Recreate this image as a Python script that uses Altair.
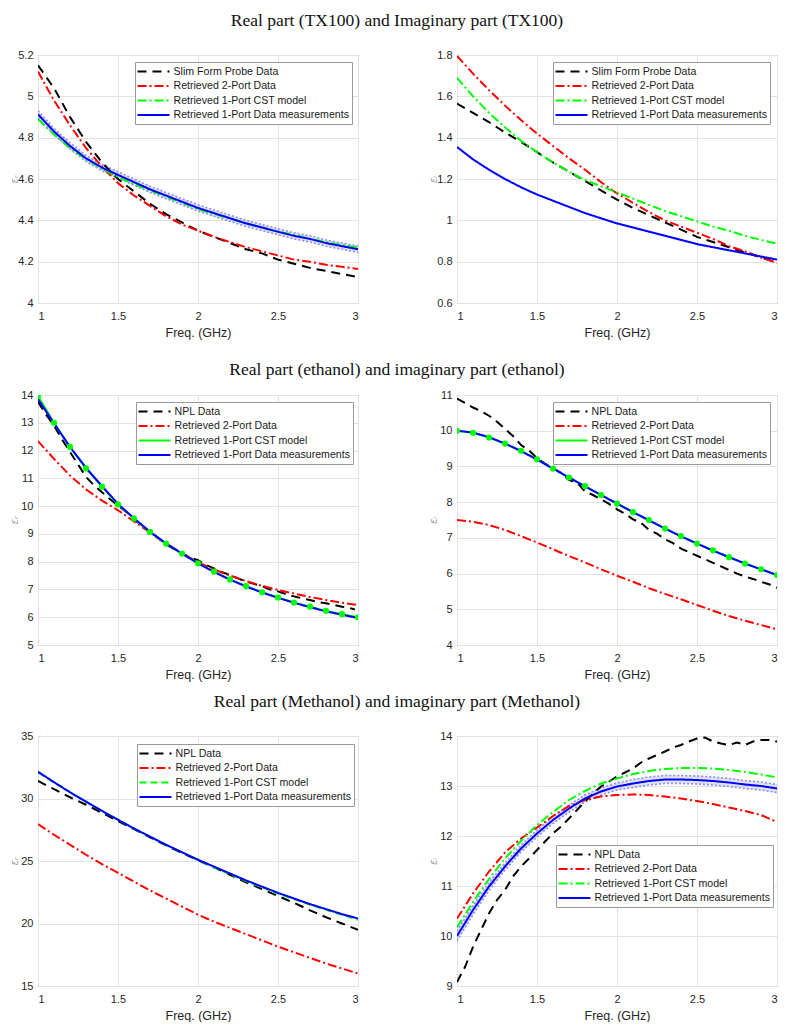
import altair as alt
import pandas as pd

# ---------------- data ----------------
FREQ = [1.0, 1.1, 1.2, 1.3, 1.4, 1.5, 1.6, 1.7, 1.8, 1.9, 2.0,
        2.1, 2.2, 2.3, 2.4, 2.5, 2.6, 2.7, 2.8, 2.9, 3.0]
FREQ_FINE = [1.0, 1.05, 1.1, 1.15, 1.2, 1.25, 1.3, 1.35, 1.4, 1.45, 1.5,
             1.55, 1.6, 1.65, 1.7, 1.75, 1.8, 1.85, 1.9, 1.95, 2.0,
             2.05, 2.1, 2.15, 2.2, 2.25, 2.3, 2.35, 2.4, 2.45, 2.5,
             2.55, 2.6, 2.65, 2.7, 2.75, 2.8, 2.85, 2.9, 2.95, 2.98]
FREQ_FINE3 = [1.0, 1.05, 1.1, 1.15, 1.2, 1.25, 1.3, 1.35, 1.4, 1.45, 1.5,
              1.55, 1.6, 1.65, 1.7, 1.75, 1.8, 1.85, 1.9, 1.95, 2.0,
              2.05, 2.1, 2.15, 2.2, 2.25, 2.3, 2.35, 2.4, 2.45, 2.5,
              2.55, 2.6, 2.65, 2.7, 2.75, 2.8, 2.85, 2.9, 2.95, 3.0]

# TX100 real part
tx_re_slim = [5.15, 5.04, 4.90, 4.78, 4.68, 4.60, 4.54, 4.48, 4.43, 4.39, 4.35,
              4.32, 4.29, 4.26, 4.24, 4.21, 4.19, 4.17, 4.155, 4.14, 4.125]
tx_re_2port = [5.12, 4.98, 4.86, 4.75, 4.66, 4.58, 4.52, 4.47, 4.42, 4.38, 4.35,
               4.32, 4.295, 4.27, 4.25, 4.23, 4.21, 4.20, 4.185, 4.175, 4.165]
tx_re_cst = [4.89, 4.815, 4.75, 4.695, 4.65, 4.61, 4.575, 4.545, 4.515, 4.485, 4.455,
             4.43, 4.41, 4.385, 4.365, 4.345, 4.33, 4.31, 4.295, 4.28, 4.27]
tx_re_meas = [4.913, 4.83, 4.76, 4.70, 4.655, 4.62, 4.585, 4.55, 4.52, 4.49, 4.46,
              4.435, 4.41, 4.385, 4.365, 4.345, 4.325, 4.31, 4.29, 4.275, 4.26]
tx_re_meas_hi = [4.93, 4.845, 4.775, 4.715, 4.67, 4.635, 4.60, 4.565, 4.535, 4.505, 4.475,
                 4.45, 4.425, 4.40, 4.38, 4.36, 4.34, 4.325, 4.305, 4.29, 4.275]
tx_re_meas_lo = [4.896, 4.815, 4.745, 4.685, 4.64, 4.605, 4.57, 4.535, 4.505, 4.475, 4.445,
                 4.42, 4.395, 4.37, 4.35, 4.33, 4.31, 4.295, 4.275, 4.26, 4.245]

# TX100 imaginary part
tx_im_slim = [1.565, 1.52, 1.475, 1.425, 1.38, 1.33, 1.28, 1.235, 1.19, 1.145, 1.10,
              1.06, 1.025, 0.99, 0.955, 0.92, 0.895, 0.87, 0.845, 0.82, 0.795]
tx_im_2port = [1.795, 1.71, 1.63, 1.555, 1.485, 1.42, 1.36, 1.30, 1.245, 1.185, 1.13,
               1.085, 1.04, 1.0, 0.97, 0.94, 0.91, 0.875, 0.85, 0.82, 0.795]
tx_im_cst = [1.69, 1.60, 1.52, 1.45, 1.385, 1.33, 1.28, 1.235, 1.195, 1.165, 1.135,
             1.105, 1.075, 1.045, 1.02, 0.995, 0.97, 0.95, 0.925, 0.905, 0.887]
tx_im_meas = [1.355, 1.295, 1.245, 1.2, 1.16, 1.125, 1.095, 1.065, 1.035, 1.01, 0.985,
              0.965, 0.945, 0.925, 0.905, 0.885, 0.87, 0.855, 0.84, 0.825, 0.81]

# Ethanol real part
eth_re_npl = [13.75, 13.3, 12.9, 12.4, 11.95, 11.5, 11.05, 10.75, 10.5, 10.25, 10.02,
              9.8, 9.52, 9.28, 9.05, 8.85, 8.62, 8.45, 8.3, 8.15, 8.05,
              7.88, 7.76, 7.62, 7.52, 7.4, 7.28, 7.2, 7.12, 7.0, 6.93,
              6.83, 6.75, 6.68, 6.62, 6.55, 6.5, 6.44, 6.38, 6.33, 6.28]
eth_re_2port = [12.34, 11.7, 11.1, 10.6, 10.2, 9.85, 9.45, 9.05, 8.65, 8.3, 7.98,
                7.72, 7.5, 7.3, 7.13, 6.98, 6.85, 6.73, 6.62, 6.52, 6.44]
eth_re_cst = [13.96, 13.0, 12.13, 11.36, 10.7, 10.06, 9.55, 9.07, 8.65, 8.29, 7.94,
              7.64, 7.36, 7.12, 6.9, 6.71, 6.53, 6.38, 6.23, 6.11, 6.0]
eth_re_meas = [13.85, 12.98, 12.13, 11.38, 10.72, 10.08, 9.56, 9.08, 8.66, 8.29, 7.94,
               7.63, 7.35, 7.11, 6.89, 6.7, 6.52, 6.36, 6.21, 6.09, 5.97]

# Ethanol imaginary part
eth_im_npl = [10.9, 10.78, 10.65, 10.55, 10.42, 10.25, 10.05, 9.85, 9.6, 9.45, 9.23,
              9.08, 8.95, 8.82, 8.62, 8.55, 8.3, 8.2, 8.08, 7.95, 7.8,
              7.68, 7.52, 7.42, 7.22, 7.12, 6.96, 6.85, 6.7, 6.6, 6.5,
              6.4, 6.3, 6.2, 6.1, 6.0, 5.92, 5.85, 5.77, 5.7, 5.6]
eth_im_2port = [7.5, 7.45, 7.36, 7.22, 7.05, 6.87, 6.68, 6.49, 6.31, 6.12, 5.94,
                5.77, 5.59, 5.43, 5.28, 5.12, 4.96, 4.81, 4.68, 4.56, 4.44]
eth_im_cst = [10.0, 9.94, 9.81, 9.64, 9.44, 9.2, 8.94, 8.69, 8.45, 8.2, 7.96,
              7.72, 7.5, 7.26, 7.05, 6.84, 6.65, 6.46, 6.28, 6.12, 5.96]
eth_im_meas = [10.0, 9.95, 9.82, 9.64, 9.43, 9.19, 8.94, 8.69, 8.44, 8.2, 7.96,
               7.72, 7.49, 7.26, 7.04, 6.84, 6.64, 6.46, 6.28, 6.12, 5.96]

# Methanol real part
met_re_npl = [31.4, 30.75, 30.1, 29.5, 28.85, 28.2, 27.55, 26.9, 26.25, 25.65, 25.05,
              24.5, 23.9, 23.3, 22.75, 22.2, 21.65, 21.05, 20.5, 20.0, 19.5]
met_re_2port = [27.95, 27.1, 26.3, 25.5, 24.75, 24.05, 23.35, 22.65, 22.0, 21.35, 20.7,
                20.15, 19.65, 19.15, 18.65, 18.15, 17.7, 17.25, 16.8, 16.4, 16.0]
met_re_cst = [32.1, 31.3, 30.5, 29.75, 29.0, 28.3, 27.6, 26.95, 26.3, 25.7, 25.1,
              24.5, 23.95, 23.4, 22.9, 22.4, 21.95, 21.5, 21.1, 20.7, 20.3]
met_re_meas = [32.14, 31.3, 30.5, 29.75, 29.0, 28.3, 27.6, 26.95, 26.3, 25.7, 25.1,
               24.55, 24.0, 23.45, 22.95, 22.45, 22.0, 21.55, 21.15, 20.75, 20.4]

# Methanol imaginary part
met_im_npl = [9.08, 9.38, 9.78, 10.12, 10.45, 10.72, 10.92, 11.19, 11.39, 11.55, 11.72,
              11.89, 12.05, 12.19, 12.35, 12.52, 12.69, 12.85, 12.99, 13.09, 13.19,
              13.27, 13.35, 13.47, 13.55, 13.62, 13.69, 13.77, 13.82, 13.89, 13.95,
              13.97, 13.89, 13.85, 13.82, 13.87, 13.82, 13.89, 13.92, 13.92, 13.89]
met_im_2port = [10.35, 10.85, 11.29, 11.67, 11.95, 12.17, 12.4, 12.6, 12.72, 12.79, 12.82,
                12.83, 12.82, 12.79, 12.75, 12.7, 12.64, 12.57, 12.5, 12.42, 12.28]
met_im_cst = [10.17, 10.68, 11.14, 11.55, 11.9, 12.22, 12.48, 12.72, 12.9, 13.05, 13.15,
              13.24, 13.3, 13.34, 13.36, 13.36, 13.35, 13.32, 13.28, 13.23, 13.17]
met_im_meas = [10.0, 10.52, 10.99, 11.39, 11.75, 12.05, 12.32, 12.55, 12.75, 12.89, 12.99,
               13.05, 13.1, 13.13, 13.13, 13.12, 13.1, 13.07, 13.03, 13.0, 12.95]
met_im_meas_hi = [10.1, 10.61, 11.07, 11.46, 11.82, 12.12, 12.39, 12.62, 12.82, 12.96, 13.06,
                  13.13, 13.18, 13.21, 13.21, 13.2, 13.18, 13.15, 13.11, 13.08, 13.03]
met_im_meas_lo = [9.9, 10.43, 10.91, 11.32, 11.68, 11.98, 12.25, 12.48, 12.68, 12.82, 12.92,
                  12.97, 13.02, 13.05, 13.05, 13.04, 13.02, 12.99, 12.95, 12.92, 12.87]

LBL_SLIM = "Slim Form Probe Data"
LBL_NPL = "NPL Data"
LBL_2P = "Retrieved 2-Port Data"
LBL_CST = "Retrieved 1-Port CST model"
LBL_MEAS = "Retrieved 1-Port Data measurements"

BLACK, RED, GREEN, BLUE = "#000000", "#ff0000", "#00ff00", "#0000ff"
DASH = [9, 6]
DASHDOT = [9, 3, 2, 3]
SOLID = [1, 0]
GREENDASH = [7, 4]

X_TICKS = [1, 1.5, 2, 2.5, 3]

FONT = "Liberation Sans"
EPS_R = "\u03b5\u1d63"
EPS_I = "\u03b5\u1d62"

# a 32 px horizontal stroke drawn inside a 12 px legend symbol box
LEGEND_LINE = "M-2.667,0L2.667,0"


def panel(series, ydom, yvals, ytitle, lx, ly, h, band=None, marker=None):
    names = [s[0] for s in series]
    cscale = alt.Scale(domain=names, range=[s[3] for s in series])
    dscale = alt.Scale(domain=names, range=[s[4] for s in series])
    legend = alt.Legend(orient="none", legendX=lx, legendY=ly, title=None,
                        symbolType=LEGEND_LINE, symbolSize=144, symbolStrokeWidth=2,
                        symbolOffset=9, labelOffset=13,
                        labelFont=FONT, labelFontSize=10.6, labelColor="#1a1a1a",
                        fillColor="#ffffff", strokeColor="#9a9a9a", padding=2.5,
                        rowPadding=1.5, labelLimit=300)
    x = alt.X("f:Q", scale=alt.Scale(domain=[1, 3], nice=False),
              axis=alt.Axis(values=X_TICKS, format="~g", title="Freq. (GHz)"))
    y = alt.Y("v:Q", scale=alt.Scale(domain=ydom, nice=False, zero=False),
              axis=alt.Axis(values=yvals, format="~g", title=ytitle))
    layers = []
    if band is not None:
        bf, lo, hi = band
        bdf = pd.DataFrame({"f": bf, "v": lo, "v2": hi})
        layers.append(alt.Chart(bdf).mark_area(color="#c9c9dd", opacity=0.55, clip=True)
                      .encode(x=x, y=y, y2="v2:Q"))
        for vals in (lo, hi):
            ddf = pd.DataFrame({"f": bf, "v": vals})
            layers.append(alt.Chart(ddf).mark_line(color="#8c8cff", strokeWidth=1.6,
                                                   strokeDash=[2, 2], clip=True)
                          .encode(x=x, y=y))
    for name, fx, vals, col, dash in series:
        df = pd.DataFrame({"f": fx, "v": vals, "s": [name] * len(vals)})
        layers.append(alt.Chart(df).mark_line(strokeWidth=2, clip=True).encode(
            x=x, y=y,
            color=alt.Color("s:N", scale=cscale, legend=legend),
            strokeDash=alt.StrokeDash("s:N", scale=dscale, legend=legend)))
    if marker is not None:
        mf, mv = marker
        mdf = pd.DataFrame({"f": mf, "v": mv})
        layers.append(alt.Chart(mdf).mark_circle(size=38, color=GREEN, opacity=1, clip=True)
                      .encode(x=x, y=y))
    return alt.layer(*layers).resolve_scale(color="shared", strokeDash="shared").properties(
        width=320, height=h)


p11 = panel([(LBL_SLIM, FREQ, tx_re_slim, BLACK, DASH),
             (LBL_2P, FREQ, tx_re_2port, RED, DASHDOT),
             (LBL_CST, FREQ, tx_re_cst, GREEN, DASHDOT),
             (LBL_MEAS, FREQ, tx_re_meas, BLUE, SOLID)],
            [4, 5.2], [4, 4.2, 4.4, 4.6, 4.8, 5, 5.2], EPS_R, 97, 7, 248,
            band=(FREQ, tx_re_meas_lo, tx_re_meas_hi))
p12 = panel([(LBL_SLIM, FREQ, tx_im_slim, BLACK, DASH),
             (LBL_2P, FREQ, tx_im_2port, RED, DASHDOT),
             (LBL_CST, FREQ, tx_im_cst, GREEN, DASHDOT),
             (LBL_MEAS, FREQ, tx_im_meas, BLUE, SOLID)],
            [0.6, 1.8], [0.6, 0.8, 1, 1.2, 1.4, 1.6, 1.8], EPS_I, 96, 7, 248)
p21 = panel([(LBL_NPL, FREQ_FINE, eth_re_npl, BLACK, DASH),
             (LBL_2P, FREQ, eth_re_2port, RED, DASHDOT),
             (LBL_CST, FREQ, eth_re_cst, GREEN, SOLID),
             (LBL_MEAS, FREQ, eth_re_meas, BLUE, SOLID)],
            [5, 14], [5, 6, 7, 8, 9, 10, 11, 12, 13, 14], EPS_R, 98, 7, 250,
            marker=(FREQ, eth_re_cst))
p22 = panel([(LBL_NPL, FREQ_FINE3, eth_im_npl, BLACK, DASH),
             (LBL_2P, FREQ, eth_im_2port, RED, DASHDOT),
             (LBL_CST, FREQ, eth_im_cst, GREEN, SOLID),
             (LBL_MEAS, FREQ, eth_im_meas, BLUE, SOLID)],
            [4, 11], [4, 5, 6, 7, 8, 9, 10, 11], EPS_I, 96, 7, 250,
            marker=(FREQ, eth_im_cst))
p31 = panel([(LBL_NPL, FREQ, met_re_npl, BLACK, DASH),
             (LBL_2P, FREQ, met_re_2port, RED, DASHDOT),
             (LBL_CST, FREQ, met_re_cst, GREEN, GREENDASH),
             (LBL_MEAS, FREQ, met_re_meas, BLUE, SOLID)],
            [15, 35], [15, 20, 25, 30, 35], EPS_R, 99, 8, 250)
p32 = panel([(LBL_NPL, FREQ_FINE3, met_im_npl, BLACK, DASH),
             (LBL_2P, FREQ, met_im_2port, RED, DASHDOT),
             (LBL_CST, FREQ, met_im_cst, GREEN, DASHDOT),
             (LBL_MEAS, FREQ, met_im_meas, BLUE, SOLID)],
            [9, 14], [9, 10, 11, 12, 13, 14], EPS_I, 99, 109, 250,
            band=(FREQ, met_im_meas_lo, met_im_meas_hi))


def row(a, b, text, offset):
    return alt.hconcat(a, b, spacing=68, title=alt.Title(
        text, font="Liberation Serif", fontSize=17.5, fontWeight="normal",
        color="#111111", anchor="middle", baseline="alphabetic", offset=offset, dx=4)
    ).resolve_scale(color="independent", strokeDash="independent")


r1 = row(p11, p12, "Real part (TX100) and Imaginary part (TX100)", 5)
r2 = row(p21, p22, "Real part (ethanol) and imaginary part (ethanol)", -4)
r3 = row(p31, p32, "Real part (Methanol) and imaginary part (Methanol)", 5)

lower = alt.vconcat(r2, r3, spacing=12).resolve_scale(
    color="independent", strokeDash="independent")

chart = alt.vconcat(r1, lower, spacing=22).resolve_scale(
    color="independent", strokeDash="independent"
).properties(
    padding={"left": 0, "top": 4, "right": 5, "bottom": 0}
).configure_view(
    stroke="#8a8a8a", strokeWidth=1
).configure_axis(
    grid=True, gridColor="#e2e2e2", gridWidth=1, domain=False, ticks=False,
    labelFont=FONT, labelFontSize=11, labelColor="#262626",
    titleFont=FONT, titleFontWeight="normal"
).configure_axisX(
    labelPadding=7, titleFontSize=12.5, titleColor="#262626", titlePadding=5
).configure_axisY(
    labelPadding=5, minExtent=18, maxExtent=18, titlePadding=1,
    titleFont="DejaVu Sans", titleFontSize=10, titleColor="#9a9a9a",
    titleFontStyle="italic"
)

chart.save("out.html", embed_options={"renderer": "svg", "actions": False})
